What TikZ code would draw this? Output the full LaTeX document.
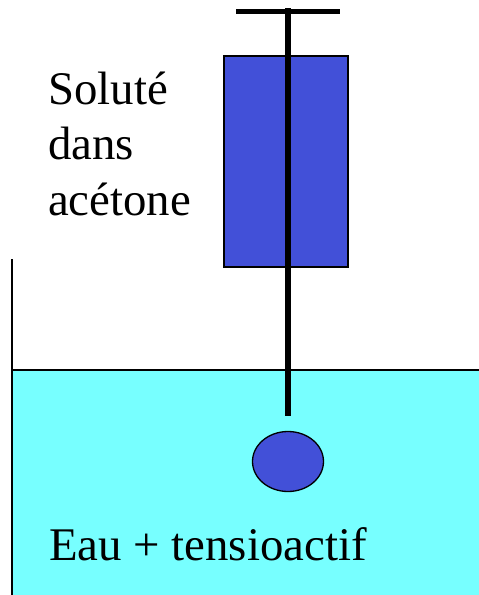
\documentclass[tikz,border=0pt]{standalone}
\usepackage{fontspec}
\setmainfont{Liberation Serif}
\usetikzlibrary{shapes.geometric}
\definecolor{soluteblue}{RGB}{66,80,216}
\definecolor{watercyan}{RGB}{119,255,255}
\tikzset{
  solute/.style={draw=black, fill=soluteblue, line width=1.3pt},
  label/.style={anchor=base west, inner sep=0pt, font=\fontsize{46.8}{50}\selectfont},
  rod/.style={draw=black, line width=5.6pt},
}
\begin{document}
\begin{tikzpicture}[x=1pt,y=-1pt]
  \useasboundingbox (0,0) rectangle (479,595);
  % water
  \fill[watercyan] (12,370) rectangle (479,595);
  \draw[black, line width=1.2pt] (479,370) -- (12,370);
  \draw[black, line width=1.2pt] (12,259) -- (12,595);
  % syringe
  \node[solute, rectangle, minimum width=124pt, minimum height=211pt, inner sep=0pt] (body) at (286,161.5) {};
  \coordinate (rodtop) at (288,8);
  \coordinate (rodend) at (288,415.5);
  \coordinate (barl) at (236,11.3);
  \coordinate (barr) at (340,11.3);
  \draw[rod] (rodtop) -- (rodend);
  \draw[rod] (barl) -- (barr);
  \node[solute, ellipse, minimum width=71pt, minimum height=60pt, inner sep=0pt] (drop) at (288,461.5) {};
  % labels
  \node[label] (l1) at (48,104) {Soluté};
  \node[label] (l2) at (48,159) {dans};
  \node[label] (l3) at (48,215) {acétone};
  \node[label] (eau) at (49,560) {Eau + tensioactif};
\end{tikzpicture}
\end{document}
